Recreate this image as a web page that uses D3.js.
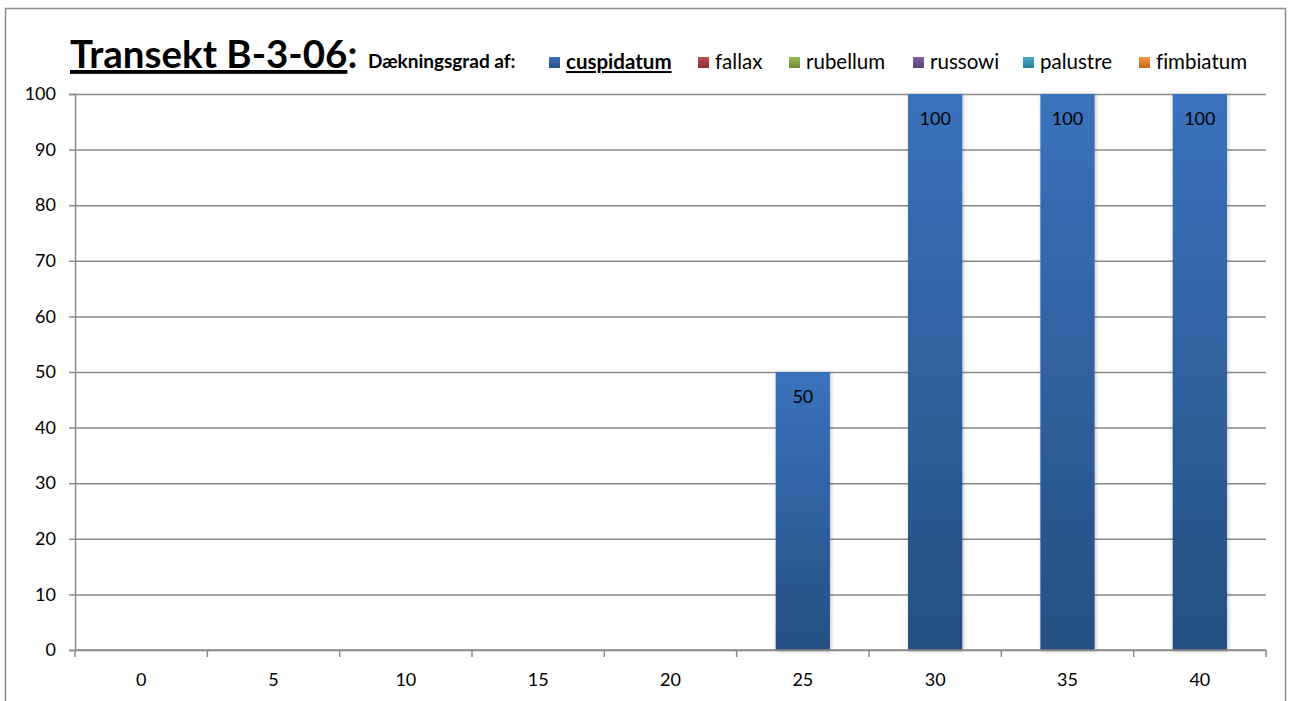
<!DOCTYPE html>
<html>
<head>
<meta charset="utf-8">
<script src="https://cdn.jsdelivr.net/npm/d3@7/dist/d3.min.js"></script>
<style>
  html, body { margin: 0; padding: 0; background: #ffffff; }
  svg { display: block; }
  text { font-family: Lato, "Open Sans", sans-serif; fill: #000; font-variant-ligatures: none; }
</style>
</head>
<body>
<svg id="chart" width="1292" height="701"></svg>
<script>
// Sampling positions along the transect (m)
const positions = ["0", "5", "10", "15", "20", "25", "30", "35", "40"];

// Coverage (%) per species at each position
const cuspidatum = [0, 0, 0, 0, 0, 50, 100, 100, 100];
const fallax     = [0, 0, 0, 0, 0, 0, 0, 0, 0];
const rubellum   = [0, 0, 0, 0, 0, 0, 0, 0, 0];
const russowi    = [0, 0, 0, 0, 0, 0, 0, 0, 0];
const palustre   = [0, 0, 0, 0, 0, 0, 0, 0, 0];
const fimbiatum  = [0, 0, 0, 0, 0, 0, 0, 0, 0];

const speciesNames = ["cuspidatum", "fallax", "rubellum", "russowi", "palustre", "fimbiatum"];
const yTicks = [0, 10, 20, 30, 40, 50, 60, 70, 80, 90, 100];

const seriesValues = [cuspidatum, fallax, rubellum, russowi, palustre, fimbiatum];
const colorsTop    = ["#3a72bd", "#c0504d", "#9bbb59", "#8064a2", "#4bacc6", "#f79646"];
const colorsBottom = ["#264f82", "#8e2f2c", "#6e8a35", "#5a4276", "#2c8099", "#c36a1c"];

const svg = d3.select("#chart");
const defs = svg.append("defs");

speciesNames.forEach((name, i) => {
  const g = defs.append("linearGradient")
    .attr("id", "grad-" + i)
    .attr("x1", 0).attr("y1", 0).attr("x2", 0).attr("y2", 1);
  g.append("stop").attr("offset", "0%").attr("stop-color", colorsTop[i]);
  g.append("stop").attr("offset", "100%").attr("stop-color", colorsBottom[i]);
});

const shadow = defs.append("filter").attr("id", "barShadow")
  .attr("x", "-20%").attr("y", "-5%").attr("width", "140%").attr("height", "110%");
shadow.append("feDropShadow")
  .attr("dx", 1).attr("dy", 1).attr("stdDeviation", 2)
  .attr("flood-color", "#000").attr("flood-opacity", 0.25);

// Chart frame
svg.append("rect")
  .attr("x", 5.5).attr("y", 8.5).attr("width", 1280).attr("height", 720)
  .attr("fill", "#fff").attr("stroke", "#8c8c8c").attr("stroke-width", 1.5);

const plot = { left: 75, right: 1266, top: 94, bottom: 650 };

const x = d3.scaleBand().domain(positions).range([plot.left, plot.right]).padding(0);
const y = d3.scaleLinear().domain([0, 100]).range([plot.bottom, plot.top]);

// Horizontal gridlines
svg.append("g")
  .attr("transform", `translate(${plot.left},0)`)
  .call(d3.axisLeft(y).tickValues(yTicks).tickSize(-(plot.right - plot.left)).tickFormat(""))
  .call(g => g.select(".domain").remove())
  .call(g => g.selectAll("line").attr("stroke", "#8a8a8a").attr("stroke-width", 1.5));

// Stacked bars
const table = positions.map((p, i) => {
  const row = { pos: p };
  speciesNames.forEach((s, k) => { row[s] = seriesValues[k][i]; });
  return row;
});
const stacked = d3.stack().keys(speciesNames)(table);
const barW = x.bandwidth() * 0.41;

stacked.forEach((layer, k) => {
  svg.append("g").attr("filter", "url(#barShadow)")
    .selectAll("rect")
    .data(layer.filter(d => d[1] - d[0] > 0))
    .join("rect")
    .attr("x", d => x(d.data.pos) + (x.bandwidth() - barW) / 2)
    .attr("y", d => y(d[1]))
    .attr("width", barW)
    .attr("height", d => y(d[0]) - y(d[1]))
    .attr("fill", `url(#grad-${k})`);
});

// Value labels inside the bar tops
stacked.forEach((layer, k) => {
  svg.append("g")
    .selectAll("text")
    .data(layer.filter(d => d[1] - d[0] > 0))
    .join("text")
    .attr("x", d => x(d.data.pos) + x.bandwidth() / 2)
    .attr("y", d => y(d[1]) + 31)
    .attr("text-anchor", "middle")
    .attr("font-size", 18)
    .text(d => d[1] - d[0]);
});

// Y axis
svg.append("g")
  .attr("transform", `translate(${plot.left},0)`)
  .call(d3.axisLeft(y).tickValues(yTicks).tickSize(6).tickPadding(13))
  .call(g => g.select(".domain").attr("stroke", "#8a8a8a").attr("stroke-width", 1.5))
  .call(g => g.selectAll("line").attr("stroke", "#8a8a8a").attr("stroke-width", 1.5))
  .call(g => g.selectAll("text").attr("font-size", 18).attr("font-family", "Lato").attr("fill", "#000"));

// X axis: labels centred in categories, ticks at category boundaries
const xAxis = svg.append("g").attr("transform", `translate(0,${plot.bottom})`);
xAxis.append("line")
  .attr("x1", plot.left).attr("x2", plot.right)
  .attr("stroke", "#8a8a8a").attr("stroke-width", 1.5);
const bounds = positions.map(p => x(p)).concat([x.range()[1]]);
xAxis.selectAll("line.tick")
  .data(bounds)
  .join("line").attr("class", "tick")
  .attr("x1", d => d).attr("x2", d => d)
  .attr("y1", 0).attr("y2", 7)
  .attr("stroke", "#8a8a8a").attr("stroke-width", 1.5);
xAxis.selectAll("text")
  .data(positions)
  .join("text")
  .attr("x", d => x(d) + x.bandwidth() / 2)
  .attr("y", 36)
  .attr("text-anchor", "middle")
  .attr("font-size", 18)
  .text(d => d);

// Title
const title = svg.append("text")
  .attr("x", 70).attr("y", 68)
  .attr("font-size", 38.5).attr("font-weight", "bold");
title.append("tspan").attr("text-decoration", "underline").text("Transekt B-3-06");
title.append("tspan").text(":");

svg.append("text")
  .attr("x", 368).attr("y", 68)
  .attr("font-size", 19).attr("font-weight", "bold")
  .text("Dækningsgrad af:");

// Legend
const legendX = [549, 698, 789, 913, 1023, 1139];
speciesNames.forEach((name, i) => {
  const g = svg.append("g").attr("transform", `translate(${legendX[i]},57)`);
  g.append("rect").attr("width", 11).attr("height", 11).attr("fill", `url(#grad-${i})`);
  g.append("text")
    .attr("x", 17).attr("y", 12)
    .attr("font-size", 20.5)
    .attr("font-weight", i === 0 ? "bold" : "normal")
    .attr("text-decoration", i === 0 ? "underline" : null)
    .text(name);
});
</script>
</body>
</html>
